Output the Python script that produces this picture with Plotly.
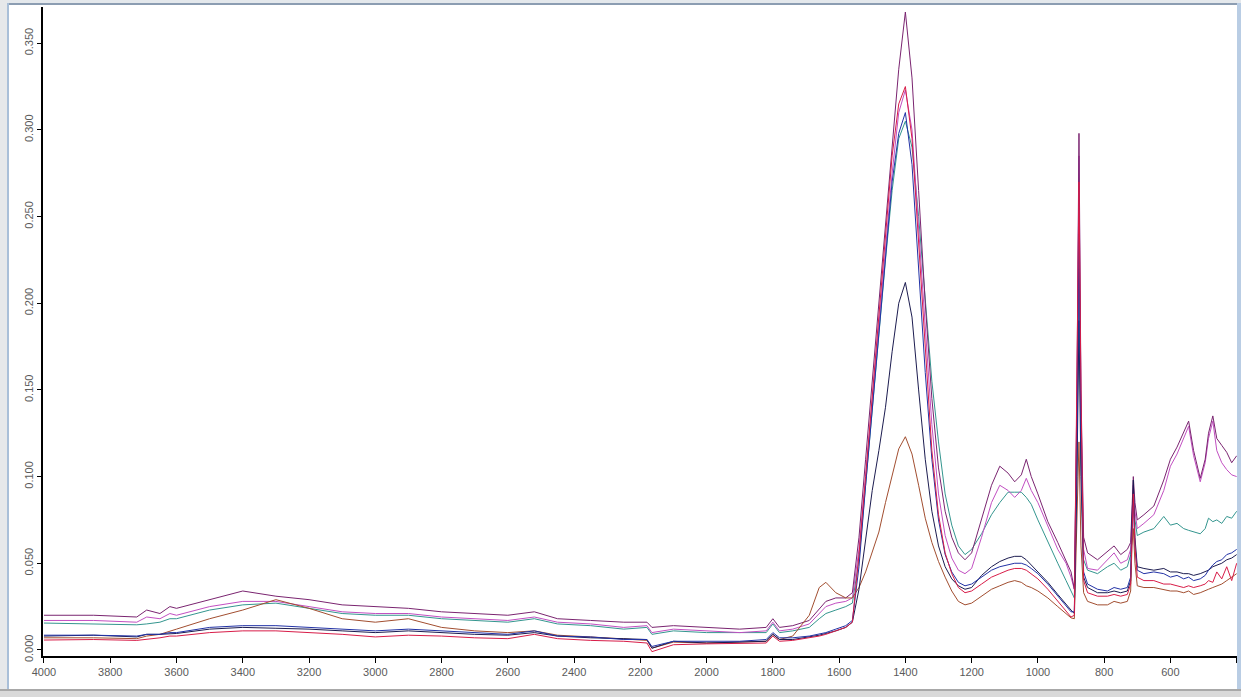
import plotly.graph_objects as go

# Wavenumber grid (cm-1)
wn = [4000, 3850, 3720, 3690, 3650, 3620, 3600, 3500, 3400, 3300, 3200, 3100, 3000, 2900, 2800, 2700, 2600, 2520, 2450, 2350, 2250, 2180, 2165, 2100, 2000, 1900, 1820, 1800, 1780,
      1740, 1690, 1660, 1640, 1610, 1580, 1560,
      1540, 1520, 1500, 1480, 1460, 1440, 1420, 1400, 1380, 1360, 1340, 1320, 1300, 1280, 1260, 1240, 1220, 1200,
      1170, 1140, 1115, 1090, 1070, 1050, 1035, 1020, 1000, 970, 940, 915, 900,
      890, 882, 876, 870, 862,
      850, 820, 790, 770, 750, 730, 720,
      716, 712, 707,
      700, 680, 650, 620, 600, 580, 560, 545, 530, 510, 495, 485, 472, 460, 445, 430, 415, 400]

purple = [0.020, 0.020, 0.019, 0.023, 0.021, 0.025, 0.024, 0.029, 0.034, 0.031, 0.029, 0.026, 0.025, 0.024, 0.022, 0.021, 0.020, 0.022, 0.018, 0.017, 0.016, 0.016, 0.013, 0.014, 0.013, 0.012, 0.013, 0.018, 0.013,
          0.014, 0.017, 0.024, 0.028, 0.030, 0.030, 0.033,
          0.065, 0.110, 0.155, 0.200, 0.245, 0.290, 0.335, 0.368, 0.330, 0.265, 0.200, 0.145, 0.105, 0.080, 0.065, 0.056, 0.052, 0.056,
          0.075, 0.095, 0.106, 0.102, 0.097, 0.101, 0.110, 0.100, 0.090, 0.074, 0.062, 0.052, 0.045,
          0.035, 0.150, 0.298, 0.150, 0.065,
          0.056, 0.052, 0.057, 0.060, 0.055, 0.058, 0.062,
          0.085, 0.100, 0.085,
          0.075, 0.078, 0.083, 0.098, 0.110, 0.117, 0.125, 0.132, 0.115, 0.099, 0.110, 0.125, 0.135, 0.122, 0.118, 0.114, 0.108, 0.112]

orchid = [0.017, 0.017, 0.016, 0.019, 0.018, 0.021, 0.020, 0.025, 0.028, 0.028, 0.025, 0.022, 0.021, 0.021, 0.019, 0.018, 0.017, 0.019, 0.016, 0.015, 0.013, 0.014, 0.010, 0.012, 0.011, 0.010, 0.011, 0.016, 0.011,
          0.012, 0.015, 0.021, 0.025, 0.027, 0.028, 0.030,
          0.058, 0.100, 0.145, 0.190, 0.235, 0.275, 0.310, 0.323, 0.300, 0.245, 0.185, 0.130, 0.090, 0.066, 0.053, 0.046, 0.044, 0.047,
          0.065, 0.085, 0.095, 0.092, 0.088, 0.092, 0.099, 0.092, 0.085, 0.072, 0.058, 0.050, 0.042,
          0.035, 0.140, 0.285, 0.140, 0.058,
          0.047, 0.046, 0.052, 0.056, 0.050, 0.052, 0.058,
          0.080, 0.095, 0.080,
          0.070, 0.073, 0.078, 0.092, 0.106, 0.113, 0.122, 0.129, 0.112, 0.097, 0.108, 0.122, 0.132, 0.115, 0.108, 0.104, 0.101, 0.100]

teal = [0.0155, 0.015, 0.0145, 0.015, 0.016, 0.018, 0.018, 0.023, 0.026, 0.027, 0.024, 0.021, 0.020, 0.020, 0.018, 0.017, 0.016, 0.018, 0.015, 0.014, 0.012, 0.013, 0.009, 0.011, 0.010, 0.010, 0.010, 0.015, 0.010,
        0.011, 0.013, 0.018, 0.021, 0.023, 0.025, 0.027,
        0.052, 0.095, 0.140, 0.185, 0.225, 0.265, 0.295, 0.305, 0.290, 0.250, 0.200, 0.155, 0.120, 0.090, 0.072, 0.060, 0.055, 0.058,
        0.067, 0.078, 0.085, 0.091, 0.091, 0.091, 0.088, 0.084, 0.075, 0.062, 0.050, 0.040, 0.034,
        0.030, 0.110, 0.220, 0.110, 0.052,
        0.046, 0.044, 0.048, 0.050, 0.046, 0.048, 0.055,
        0.075, 0.088, 0.075,
        0.066, 0.068, 0.070, 0.077, 0.072, 0.073, 0.070, 0.069, 0.068, 0.067, 0.070, 0.076, 0.074, 0.075, 0.073, 0.077, 0.076, 0.080]

blue = [0.0085, 0.0085, 0.008, 0.009, 0.009, 0.010, 0.010, 0.013, 0.014, 0.014, 0.013, 0.012, 0.011, 0.012, 0.011, 0.010, 0.009, 0.011, 0.008, 0.0075, 0.006, 0.006, 0.002, 0.005, 0.005, 0.005, 0.006, 0.010, 0.007,
        0.007, 0.008, 0.009, 0.010, 0.012, 0.014, 0.017,
        0.048, 0.095, 0.140, 0.185, 0.230, 0.270, 0.298, 0.310, 0.280, 0.220, 0.160, 0.110, 0.075, 0.055, 0.045, 0.039, 0.037, 0.038,
        0.042, 0.046, 0.048, 0.049, 0.050, 0.050, 0.049, 0.047, 0.044, 0.038, 0.031, 0.025, 0.022,
        0.022, 0.120, 0.240, 0.120, 0.045,
        0.038, 0.035, 0.034, 0.036, 0.035, 0.036, 0.042,
        0.070, 0.085, 0.060,
        0.046, 0.044, 0.045, 0.044, 0.042, 0.043, 0.041, 0.042, 0.040, 0.041, 0.043, 0.046, 0.049, 0.051, 0.052, 0.055, 0.056, 0.058]

navy = [0.008, 0.0085, 0.0075, 0.009, 0.009, 0.0095, 0.0095, 0.012, 0.013, 0.0125, 0.012, 0.011, 0.010, 0.011, 0.010, 0.009, 0.0085, 0.010, 0.008, 0.007, 0.0065, 0.006, 0.001, 0.005, 0.004, 0.0045, 0.005, 0.009, 0.006,
        0.006, 0.0075, 0.0085, 0.0095, 0.011, 0.013, 0.016,
        0.035, 0.065, 0.092, 0.115, 0.140, 0.172, 0.200, 0.212, 0.192, 0.150, 0.110, 0.080, 0.060, 0.048, 0.041, 0.037, 0.035, 0.036,
        0.043, 0.048, 0.051, 0.053, 0.054, 0.054, 0.052, 0.049, 0.045, 0.039, 0.032, 0.026, 0.023,
        0.021, 0.100, 0.190, 0.100, 0.042,
        0.036, 0.033, 0.033, 0.034, 0.033, 0.034, 0.040,
        0.075, 0.098, 0.065,
        0.048, 0.047, 0.046, 0.047, 0.045, 0.045, 0.044, 0.044, 0.043, 0.044, 0.045, 0.046, 0.048, 0.049, 0.050, 0.052, 0.053, 0.055]

red = [0.0057, 0.006, 0.0055, 0.006, 0.007, 0.008, 0.008, 0.010, 0.011, 0.011, 0.010, 0.009, 0.0075, 0.0085, 0.008, 0.007, 0.0065, 0.009, 0.0065, 0.0055, 0.005, 0.004, -0.001, 0.003, 0.0035, 0.004, 0.004, 0.008, 0.005,
       0.0055, 0.007, 0.008, 0.009, 0.011, 0.013, 0.016,
       0.055, 0.100, 0.145, 0.190, 0.240, 0.285, 0.315, 0.325, 0.295, 0.235, 0.170, 0.115, 0.078, 0.056, 0.044, 0.036, 0.033, 0.034,
       0.038, 0.042, 0.044, 0.046, 0.047, 0.047, 0.046, 0.044, 0.041, 0.035, 0.028, 0.022, 0.019,
       0.020, 0.150, 0.270, 0.150, 0.040,
       0.033, 0.031, 0.031, 0.032, 0.031, 0.032, 0.038,
       0.070, 0.090, 0.060,
       0.042, 0.040, 0.040, 0.038, 0.038, 0.037, 0.036, 0.037, 0.036, 0.037, 0.038, 0.040, 0.039, 0.045, 0.041, 0.048, 0.040, 0.050]

brown = [0.007, 0.007, 0.0065, 0.008, 0.009, 0.011, 0.012, 0.018, 0.023, 0.029, 0.024, 0.018, 0.016, 0.018, 0.013, 0.011, 0.010, 0.011, 0.0085, 0.0075, 0.0065, 0.0055, 0.001, 0.0045, 0.004, 0.0045, 0.005, 0.009, 0.006,
         0.008, 0.020, 0.036, 0.039, 0.033, 0.030, 0.030,
         0.036, 0.045, 0.056, 0.068, 0.085, 0.100, 0.116, 0.123, 0.113, 0.095, 0.076, 0.062, 0.051, 0.042, 0.034, 0.028, 0.026, 0.027,
         0.031, 0.035, 0.037, 0.039, 0.040, 0.039, 0.037, 0.036, 0.034, 0.030, 0.025, 0.021, 0.0185,
         0.018, 0.070, 0.120, 0.060, 0.033,
         0.028, 0.026, 0.026, 0.028, 0.027, 0.028, 0.034,
         0.060, 0.070, 0.050,
         0.037, 0.036, 0.036, 0.035, 0.034, 0.034, 0.033, 0.034, 0.032, 0.033, 0.034, 0.035, 0.036, 0.037, 0.038, 0.040, 0.042, 0.044]

x_ticks = [4000, 3800, 3600, 3400, 3200, 3000, 2800, 2600, 2400, 2200, 2000, 1800, 1600, 1400, 1200, 1000, 800, 600, 400]
y_ticks = [0.000, 0.050, 0.100, 0.150, 0.200, 0.250, 0.300, 0.350]

series = [
    ("teal", teal, "#34968f"),
    ("orchid", orchid, "#c24fc2"),
    ("purple", purple, "#7a2470"),
    ("brown", brown, "#a24e30"),
    ("navy", navy, "#1c1c50"),
    ("blue", blue, "#2232a6"),
    ("red", red, "#d81c48"),
]

fig = go.Figure()
for name, vals, col in series:
    fig.add_trace(go.Scatter(x=wn, y=vals, mode="lines", name=name,
                             line=dict(color=col, width=1), showlegend=False))

W, H = 1241, 697
L, R, T, B = 43, 4, 7, 41
pw, ph = W - L - R, H - T - B


def px2x(px):
    return (px - L) / pw


def py2y(py):
    return (H - B - py) / ph


shapes = []
def rect(x0, y0, x1, y1, color):
    shapes.append(dict(type="rect", xref="paper", yref="paper",
                       x0=px2x(x0), x1=px2x(x1), y0=py2y(y0), y1=py2y(y1),
                       fillcolor=color, line=dict(width=0), layer="above"))

# window frame
rect(0, 0, W, 3, "#e4e8ec")
rect(0, 3, W, 5, "#8c9db2")
rect(0, 0, 7, H, "#e6e8ea")
rect(7, 3, 9, 690, "#a9bfd8")
rect(1237, 3, W, 690, "#b9cde4")
rect(0, 689, W, 691, "#a8a8a8")
rect(0, 691, W, H, "#d9d9d9")

tick_font = dict(family="Liberation Sans, Arial, sans-serif", size=11, color="#5a5a5a")

fig.update_layout(
    width=W, height=H,
    margin=dict(l=L, r=R, t=T, b=B, pad=0),
    paper_bgcolor="white", plot_bgcolor="white",
    shapes=shapes,
    xaxis=dict(range=[4003, 399], tickvals=x_ticks, ticktext=[str(v) for v in x_ticks],
               showgrid=False, zeroline=False, showline=True, linecolor="black", linewidth=2,
               ticks="outside", ticklen=5, tickwidth=1, tickcolor="black",
               tickfont=tick_font),
    yaxis=dict(range=[-0.0035, 0.3709], tickvals=y_ticks, ticktext=["%.3f" % v for v in y_ticks],
               tickangle=-90,
               showgrid=False, zeroline=False, showline=True, linecolor="black", linewidth=2,
               ticks="outside", ticklen=4, tickwidth=1, tickcolor="black",
               tickfont=tick_font),
)

fig.write_html("out.html")
